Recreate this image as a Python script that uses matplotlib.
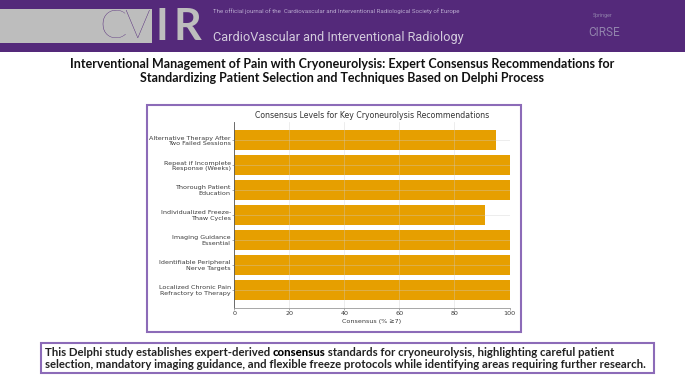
import matplotlib
matplotlib.use('Agg')
import matplotlib.pyplot as plt
from matplotlib.patches import Rectangle

# data (bottom to top, as barh draws it)
labels = ['Localized Chronic Pain\nRefractory to Therapy',
          'Identifiable Peripheral\nNerve Targets',
          'Imaging Guidance\nEssential',
          'Individualized Freeze-\nThaw Cycles',
          'Thorough Patient\nEducation',
          'Repeat if Incomplete\nResponse (Weeks)',
          'Alternative Therapy After\nTwo Failed Sessions']
consensus = [100, 100, 100, 91, 100, 100, 95]
x_ticks = [0, 20, 40, 60, 80, 100]

title = ('Interventional Management of Pain with Cryoneurolysis: Expert Consensus Recommendations for\n'
         'Standardizing Patient Selection and Techniques Based on Delphi Process')
summary_1a = 'This Delphi study establishes expert-derived '
summary_1b = 'consensus'
summary_1c = ' standards for cryoneurolysis, highlighting careful patient'
summary_2 = ('selection, mandatory imaging guidance, and flexible freeze protocols '
             'while identifying areas requiring further research.')

W, H = 685, 377
purple = '#54297a'
grey = '#bdbdbd'
box_purple = '#8c6bb8'

fig = plt.figure(figsize=(W / 100, H / 100), dpi=100)

# background layer in pixel coordinates
bg = fig.add_axes([0, 0, 1, 1])
bg.set_xlim(0, W)
bg.set_ylim(H, 0)
bg.axis('off')

# header band
bg.add_patch(Rectangle((0, 0), W, 52, color=purple, lw=0))
bg.add_patch(Rectangle((0, 9.3), 152, 33.4, color=grey, lw=0))
bg.text(113, 27, 'C', family='Lato', weight='light', fontsize=29, color=purple,
        ha='center', va='center')
bg.text(137, 27, 'V', family='Lato', weight='light', fontsize=29, color=purple,
        ha='center', va='center')
bg.text(162, 27, 'I', family='Lato', weight='bold', fontsize=31, color=grey,
        ha='center', va='center')
bg.text(187, 27, 'R', family='Lato', weight='bold', fontsize=31, color=grey,
        ha='center', va='center')
bg.text(213, 11, 'The official journal of the  Cardiovascular and Interventional '
        'Radiological Society of Europe', family='Roboto', fontsize=4.4,
        color='#b9a9cf', ha='left', va='center')
bg.text(213, 38, 'CardioVascular and Interventional Radiology', family='Roboto',
        fontsize=9.2, color='#d3cbdd', ha='left', va='center')
bg.text(603, 16, 'Springer', family='Roboto', fontsize=3.8, color='#9284ad',
        ha='center', va='center')
bg.text(604, 33, 'CIRSE', family='Roboto', fontsize=8.5, color='#9284ad',
        ha='center', va='center')

# main title
bg.text(342, 71.5, title, family='Lato', weight='bold', fontsize=9.0,
        color='#111111', ha='center', va='center', linespacing=1.2)

# chart frame
bg.add_patch(Rectangle((147, 105), 374, 226.5, facecolor='white',
                       edgecolor=box_purple, lw=1.5))

# summary box
fs = 8.2
bg.add_patch(Rectangle((41, 343), 613, 30, facecolor='white',
                       edgecolor=box_purple, lw=1.5))
tx = 45
t1 = bg.text(tx, 353, summary_1a, family='Lato', weight='bold', fontsize=fs,
             color='#222222', ha='left', va='center')
fig.canvas.draw()
r = fig.canvas.get_renderer()
inv = bg.transData.inverted()
x_end = inv.transform(t1.get_window_extent(r))[1][0] - 0.3
t2 = bg.text(x_end, 353, summary_1b, family='Lato', weight='black', fontsize=fs,
             color='black', ha='left', va='center')
x_end = inv.transform(t2.get_window_extent(r))[1][0] - 0.6
bg.text(x_end, 353, summary_1c, family='Lato', weight='bold', fontsize=fs,
        color='#222222', ha='left', va='center')
bg.text(tx, 364, summary_2, family='Lato', weight='bold', fontsize=fs,
        color='#222222', ha='left', va='center')

# bar chart
ax = fig.add_axes([234.3 / W, 1 - 308 / H, 275.2 / W, 186.3 / H])
ax.barh(range(len(labels)), consensus, height=0.8, color='#e69f00')
ax.set_xlim(0, 100)
ax.set_yticks(range(len(labels)))
ax.set_yticklabels(labels)
ax.set_xticks(x_ticks)
ax.grid(True, color='#cccccc', lw=0.5, alpha=0.5)
for s in ['top', 'right']:
    ax.spines[s].set_visible(False)
ax.spines['left'].set_color('#555555')
ax.spines['bottom'].set_color('#999999')
ax.spines['left'].set_linewidth(0.6)
ax.spines['bottom'].set_linewidth(0.6)
ax.tick_params(labelsize=4.6, labelcolor='#3a3a3a', length=1.5, width=0.5,
               color='#888888', pad=1)
ax.set_xlabel('Consensus (% \u22657)', fontsize=4.6, color='#3a3a3a', labelpad=2)
ax.set_title('Consensus Levels for Key Cryoneurolysis Recommendations',
             fontsize=5.6, color='#333333', pad=3)

fig.savefig('out.png', dpi=100)
